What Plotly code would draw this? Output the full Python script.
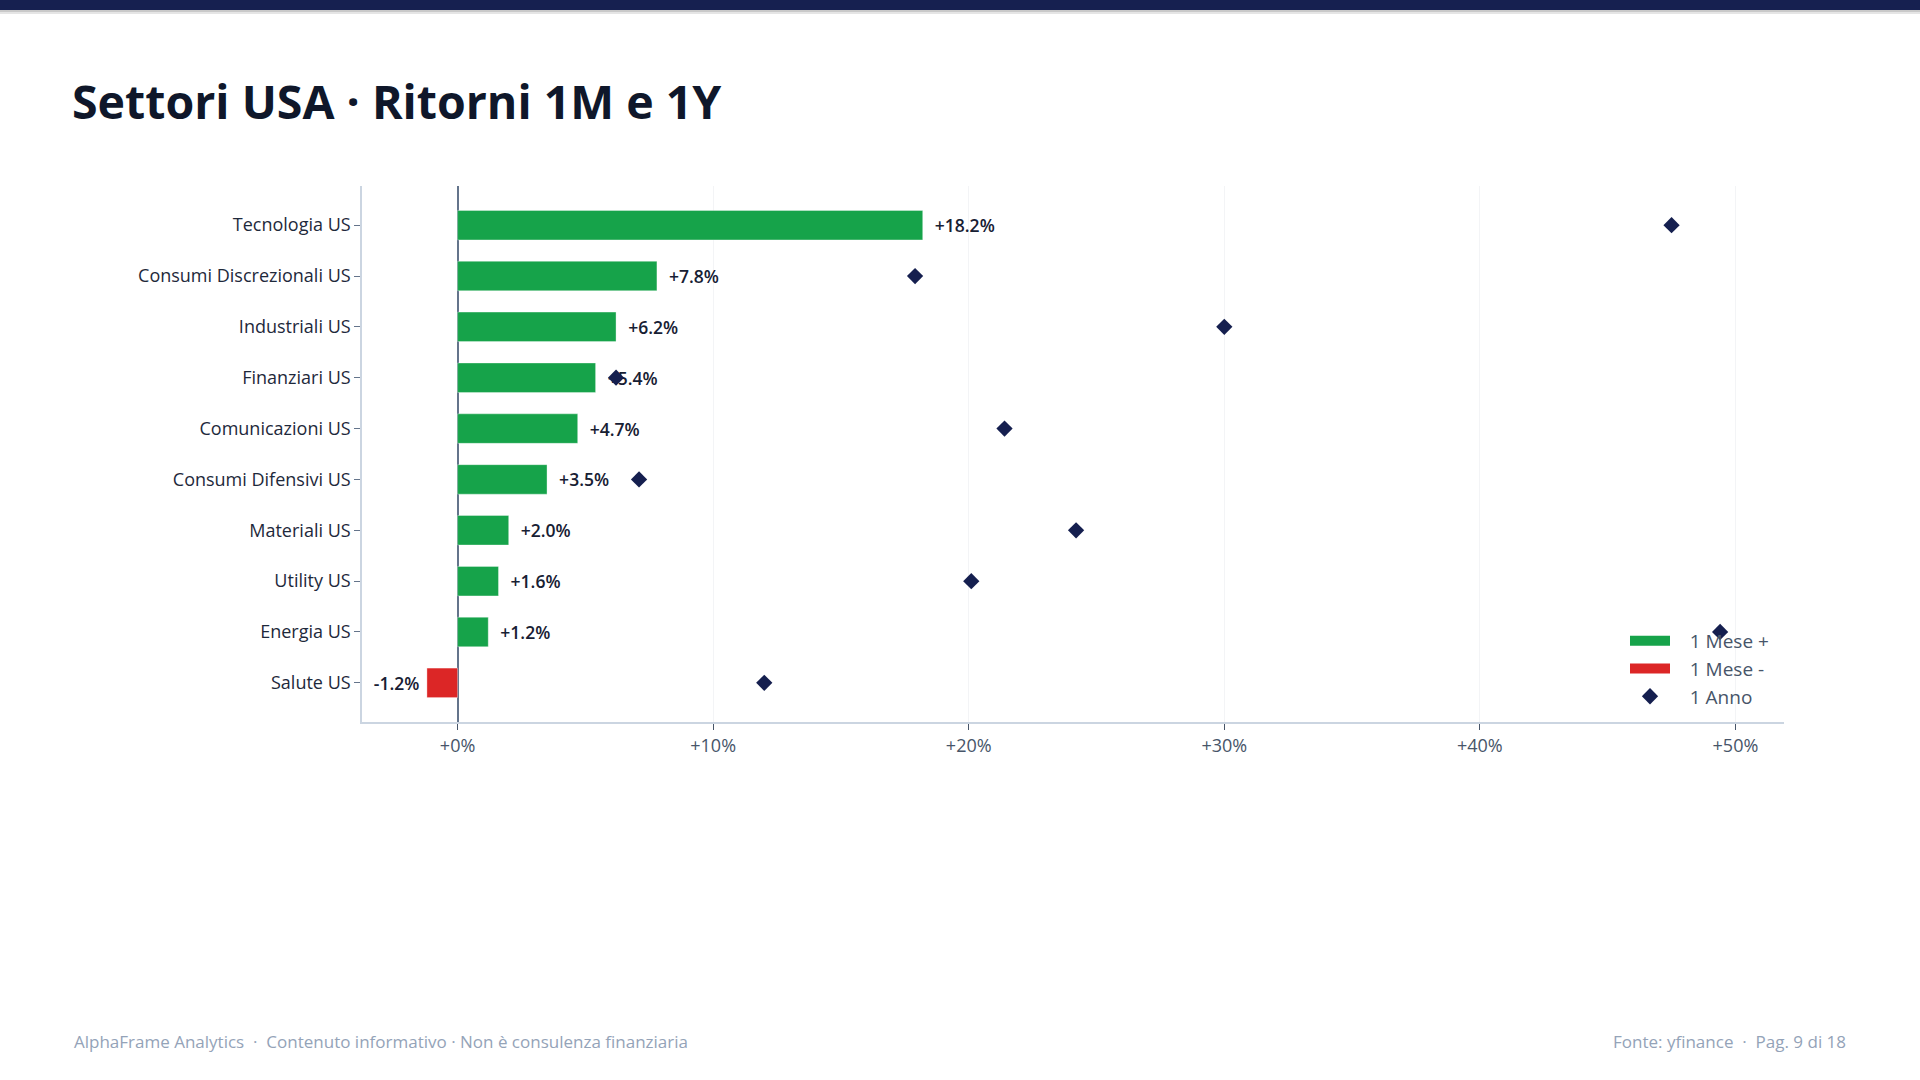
import plotly.graph_objects as go

W, H = 1920, 1080

# ---------------- data ----------------
categories = [
    "Tecnologia US", "Consumi Discrezionali US", "Industriali US", "Finanziari US",
    "Comunicazioni US", "Consumi Difensivi US", "Materiali US", "Utility US",
    "Energia US", "Salute US",
]
ret_1m = [18.2, 7.8, 6.2, 5.4, 4.7, 3.5, 2.0, 1.6, 1.2, -1.2]
ret_1y = [47.5, 17.9, 30.0, 6.2, 21.4, 7.1, 24.2, 20.1, 49.4, 12.0]
x_tick_vals = [0, 10, 20, 30, 40, 50]
x_tick_text = ["+0%", "+10%", "+20%", "+30%", "+40%", "+50%"]

title_text = "Settori USA · Ritorni 1M e 1Y"
footer_left = "AlphaFrame Analytics  ·  Contenuto informativo · Non è consulenza finanziaria"
footer_right = "Fonte: yfinance  ·  Pag. 9 di 18"

# ---------------- layout geometry ----------------
ML, MR, MT, MB = 362, 136, 186, 358
PW, PH = W - ML - MR, H - MT - MB


def px_x(px):
    return (px - ML) / PW


def px_y(py):
    return 1 - (py - MT) / PH


GREEN = "#16a34a"
RED = "#dc2626"
NAVY = "#151f4f"
FONT = "Open Sans"

pos_x = [v if v >= 0 else None for v in ret_1m]
neg_x = [v if v < 0 else None for v in ret_1m]
pos_t = [f"  +{v:.1f}%" if v >= 0 else "" for v in ret_1m]
neg_t = [f"{v:.1f}% " if v < 0 else "" for v in ret_1m]

fig = go.Figure()
fig.add_trace(go.Bar(
    y=categories, x=pos_x, orientation="h", width=0.58,
    marker=dict(color=GREEN, line=dict(color="rgba(255,255,255,0.35)", width=1)),
    text=pos_t, textposition="outside", cliponaxis=False,
    textfont=dict(family=FONT, size=17.5, color="#172033", weight=600),
    showlegend=False, name="1 Mese +",
))
fig.add_trace(go.Bar(
    y=categories, x=neg_x, orientation="h", width=0.58,
    marker=dict(color=RED, line=dict(color="rgba(255,255,255,0.35)", width=1)),
    text=neg_t, textposition="outside", cliponaxis=False,
    textfont=dict(family=FONT, size=17.5, color="#172033", weight=600),
    showlegend=False, name="1 Mese -",
))
# legend entries for bars
fig.add_trace(go.Scatter(x=[None], y=[None], mode="lines", name="   1 Mese +",
                         line=dict(color=GREEN, width=14)))
fig.add_trace(go.Scatter(x=[None], y=[None], mode="lines", name="   1 Mese -",
                         line=dict(color=RED, width=14)))
fig.add_trace(go.Scatter(
    y=categories, x=ret_1y, mode="markers", name="   1 Anno",
    marker=dict(symbol="diamond", size=12.5, color=NAVY, line=dict(width=0)),
    cliponaxis=False,
))

shapes = [
    dict(type="rect", xref="paper", yref="paper", x0=px_x(0), x1=px_x(W),
         y0=px_y(14), y1=px_y(10), fillcolor="rgba(0,0,0,0.10)", line=dict(width=0), layer="above"),
    dict(type="rect", xref="paper", yref="paper", x0=px_x(0), x1=px_x(W),
         y0=px_y(12), y1=px_y(10), fillcolor="rgba(0,0,0,0.12)", line=dict(width=0), layer="above"),
    dict(type="rect", xref="paper", yref="paper", x0=px_x(0), x1=px_x(W),
         y0=px_y(10), y1=px_y(0), fillcolor="#162050", line=dict(width=0), layer="above"),
]

annotations = [
    dict(text=footer_left, xref="paper", yref="paper", x=px_x(72), y=px_y(1041),
         xanchor="left", yanchor="middle", showarrow=False,
         font=dict(family=FONT, size=17, color="#94a3b8")),
    dict(text=footer_right, xref="paper", yref="paper", x=px_x(1848), y=px_y(1041),
         xanchor="right", yanchor="middle", showarrow=False,
         font=dict(family=FONT, size=17, color="#94a3b8")),
]

fig.update_layout(
    width=W, height=H,
    margin=dict(l=ML, r=MR, t=MT, b=MB, pad=0),
    paper_bgcolor="white", plot_bgcolor="white",
    barmode="overlay",
    title=dict(text=title_text, x=72 / W, xref="container", xanchor="left",
               y=1 - 103 / H, yref="container", yanchor="middle",
               font=dict(family=FONT, size=46.5, color="#0f172a", weight=700)),
    xaxis=dict(
        range=[-3.74, 51.9], tickvals=x_tick_vals, ticktext=x_tick_text,
        showgrid=True, gridcolor="#f3f4f6", gridwidth=1,
        zeroline=True, zerolinecolor="#64748b", zerolinewidth=1.5,
        showline=True, linecolor="#cbd5e1", linewidth=2,
        ticks="outside", ticklen=6, tickcolor="#475569", tickwidth=1,
        tickfont=dict(family=FONT, size=18, color="#475569"),
    ),
    yaxis=dict(
        type="category", categoryorder="array", categoryarray=categories,
        range=[9.77, -0.77],
        showgrid=False, zeroline=False,
        showline=True, linecolor="#cbd5e1", linewidth=1.5,
        ticks="outside", ticklen=6, tickcolor="#64748b", tickwidth=1,
        tickfont=dict(family=FONT, size=18, color="#1e293b"),
    ),
    legend=dict(x=px_x(1774), xanchor="right", y=px_y(716), yanchor="bottom",
                bgcolor="rgba(0,0,0,0)", itemwidth=40,
                font=dict(family=FONT, size=19, color="#475569")),
    shapes=shapes,
    annotations=annotations,
)

fig.write_html("out.html")
